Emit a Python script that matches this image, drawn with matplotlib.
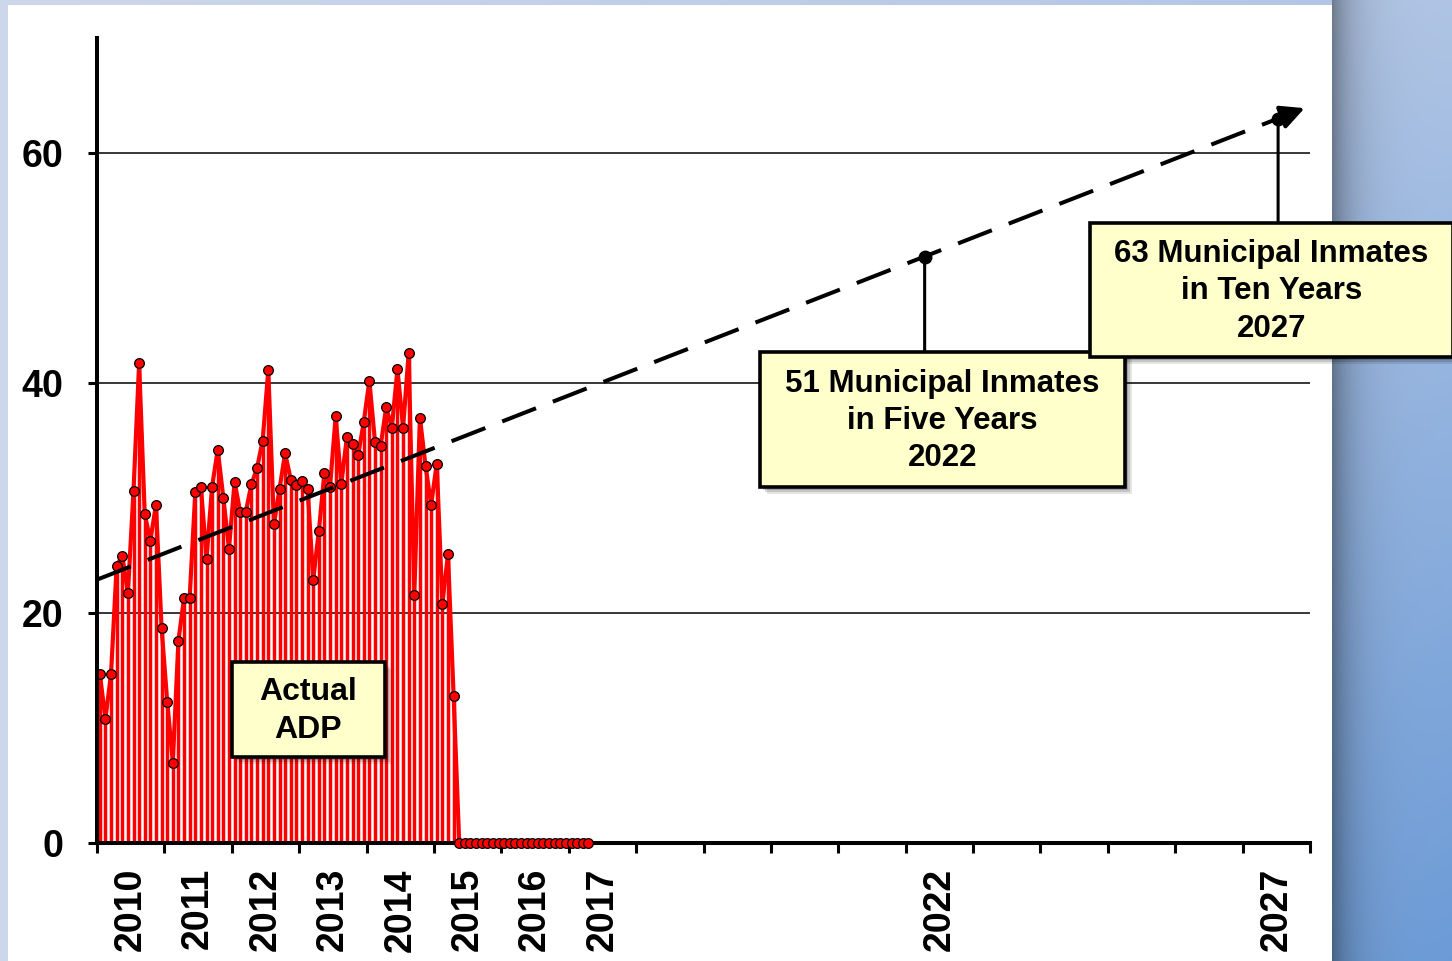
import numpy as np
import matplotlib
matplotlib.use("Agg")
import matplotlib.pyplot as plt
from matplotlib.patches import Rectangle
from matplotlib.ticker import FixedLocator, FixedFormatter, NullFormatter

plt.rcParams['font.family'] = ['Liberation Sans', 'DejaVu Sans']
plt.rcParams['font.weight'] = 'bold'

W, H = 1452, 961

# monthly average daily population, Jan 2010 .. Apr 2015
adp = [14.7, 10.8, 14.7, 24.1, 25.0, 21.7, 30.6, 41.7, 28.6, 26.3, 29.4, 18.7,
       12.3, 7.0, 17.6, 21.3, 21.3, 30.5, 31.0, 24.7, 31.0, 34.2, 30.0, 25.6,
       31.4, 28.8, 28.8, 31.2, 32.6, 35.0, 41.1, 27.7, 30.8, 33.9, 31.6, 31.1,
       31.5, 30.8, 22.9, 27.1, 32.2, 31.0, 37.1, 31.2, 35.3, 34.7, 33.7, 36.6,
       40.2, 34.9, 34.5, 37.9, 36.1, 41.2, 36.1, 42.6, 21.6, 37.0, 32.8, 29.4,
       33.0, 20.8, 25.1, 12.8]
# no reported population May 2015 .. Apr 2017
zero_months = 24
adp_all = np.array(adp + [0.0] * zero_months)
months = 2010 + (np.arange(len(adp_all)) + 0.5) / 12

# linear projection
trend_x = [2010.0, 2027.92]
trend_y = [22.9, 63.9]
projections = [51, 63]
proj_text = ["51 Municipal Inmates\nin Five Years\n2022",
             "63 Municipal Inmates\nin Ten Years\n2027"]

year_ticks = list(range(2010, 2029))
year_labels = ["2010", "2011", "2012", "2013", "2014", "2015", "2016", "2017", "2022", "2027"]
y_ticks = [0, 20, 40, 60]


def fx(x):
    return x / W


def fy(y):
    return 1 - y / H


fig = plt.figure(figsize=(W / 100, H / 100), dpi=100)

# blue slide background with a white panel
bg = fig.add_axes([0, 0, 1, 1], zorder=-5)
xx, yy = np.meshgrid(np.arange(W), np.arange(H))
t = (xx / W) * (0.3 + 0.7 * yy / H)
c0 = np.array([205, 215, 235]) / 255
c1 = np.array([108, 155, 215]) / 255
img = c0[None, None, :] * (1 - t[..., None]) + c1[None, None, :] * t[..., None]
shade = np.where(xx >= 1332, 0.38 * np.exp(-(xx - 1332) / 22.0), 0)
img = img * (1 - shade[..., None])
bg.imshow(img, extent=[0, W, H, 0], aspect='auto')
bg.set_xlim(0, W)
bg.set_ylim(H, 0)
bg.axis('off')
fig.add_artist(Rectangle((fx(8), 0), fx(1324), fy(5), transform=fig.transFigure,
                         facecolor='white', edgecolor='none', zorder=-4))

ax = fig.add_axes([fx(97), fy(843), fx(1310 - 97), (843 - 38) / H])
ax.set_facecolor('none')
ax.set_xlim(2010, 2028)
ax.set_ylim(0, 70)

ax.vlines(months, 0, adp_all, color='#ff0000', lw=2.5, zorder=2)
ax.plot(months, adp_all, color='#ff0000', lw=3, marker='o', ms=7,
        mfc='#ff0000', mec='black', mew=0.9, zorder=4, clip_on=False)

# dashed trend with arrow head
tx0, tx1 = trend_x
ty0, ty1 = trend_y
slope = (ty1 - ty0) / (tx1 - tx0)
stop = tx1 - 0.25
ax.plot([tx0, stop], [ty0, ty0 + slope * (stop - tx0)], color='black', lw=2.9,
        linestyle=(0, (9, 4.5)), zorder=5, solid_capstyle='butt')
ax.annotate('', xy=(tx1, ty1), xytext=(stop - 0.1, ty0 + slope * (stop - 0.1 - tx0)),
            arrowprops=dict(arrowstyle='-|>', color='black', lw=2.9,
                            mutation_scale=36, shrinkA=0, shrinkB=0), zorder=5)

ax.yaxis.grid(True, color='black', lw=1.1)
ax.set_axisbelow(True)
for s in ['top', 'right']:
    ax.spines[s].set_visible(False)
for s in ['left', 'bottom']:
    ax.spines[s].set_linewidth(2.9)
ax.spines['left'].set_zorder(6)
ax.spines['bottom'].set_zorder(3)

ax.set_yticks(y_ticks)
ax.set_yticklabels([str(v) for v in y_ticks])
ax.tick_params(axis='y', length=6.5, width=2.2, pad=18, labelsize=27)

ax.xaxis.set_major_locator(FixedLocator(year_ticks))
ax.xaxis.set_major_formatter(NullFormatter())
ax.xaxis.set_minor_locator(FixedLocator([int(y) + 0.5 for y in year_labels]))
ax.xaxis.set_minor_formatter(FixedFormatter(year_labels))
ax.tick_params(axis='x', which='major', length=7, width=2.2, direction='out')
ax.tick_params(axis='x', which='minor', length=0, pad=18, labelsize=27, labelrotation=90)


def box(x0, y0, x1, y1, text, size):
    for k, a in [(7, 0.10), (5, 0.14), (3, 0.18)]:
        fig.add_artist(Rectangle((fx(x0 + k), fy(y1 + k)), fx(x1 - x0), (y1 - y0) / H,
                                 transform=fig.transFigure, facecolor='black',
                                 edgecolor='none', alpha=a, zorder=7))
    fig.add_artist(Rectangle((fx(x0), fy(y1)), fx(x1 - x0), (y1 - y0) / H,
                             transform=fig.transFigure, facecolor='#ffffcc',
                             edgecolor='black', lw=2.6, zorder=8, clip_on=False))
    fig.text(fx((x0 + x1) / 2), fy((y0 + y1) / 2 + 1.5), text, ha='center', va='center',
             fontsize=size, fontweight='bold', linespacing=1.32, zorder=9)


# projection callouts
boxes = [(760, 352, 1125, 487), (1090, 223, 1453, 357)]
for val, txt, (x0, y0, x1, y1) in zip(projections, proj_text, boxes):
    px = tx0 + (val - ty0) / slope
    mx_pix = ax.transData.transform((px, val))[0]
    ax.annotate('', xy=(px, val), xytext=(mx_pix, H - y0), textcoords='figure pixels',
                arrowprops=dict(arrowstyle='-', color='black', lw=2.2, shrinkA=0, shrinkB=0),
                annotation_clip=False, zorder=6)
    ax.plot(px, val, 'o', color='black', ms=9, zorder=7, clip_on=False)
    box(x0, y0, x1, y1, txt, 22.5)

box(232, 662, 385, 757, "Actual\nADP", 23)

fig.savefig('out.png', dpi=100)
